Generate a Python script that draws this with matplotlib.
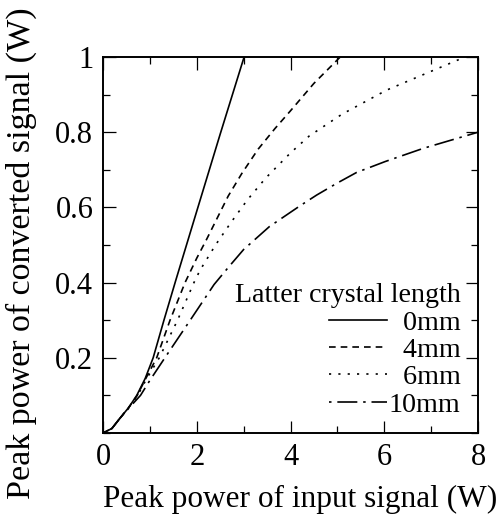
import matplotlib
matplotlib.use("Agg")
import matplotlib.pyplot as plt
from matplotlib.ticker import MultipleLocator, FixedLocator, FixedFormatter

plt.rcParams['font.family'] = ['Liberation Serif', 'DejaVu Serif']

# Data
x_0mm = [0, 0.19, 0.36, 0.55, 0.72, 0.9, 1.07, 1.30, 1.55, 2.0, 2.5, 3.01]
y_0mm = [0, 0.012, 0.039, 0.068, 0.1, 0.145, 0.2, 0.3, 0.405, 0.59, 0.795, 1.0]

x_4mm = [0, 0.19, 0.36, 0.55, 0.73, 0.9, 1.145, 1.43, 1.75, 2.0, 2.21, 2.43, 2.67, 2.96, 3.31, 3.67, 4.0, 4.5, 5.06]
y_4mm = [0, 0.012, 0.039, 0.068, 0.1, 0.142, 0.2, 0.3, 0.4, 0.465, 0.515, 0.57, 0.63, 0.69, 0.755, 0.81, 0.857, 0.93, 1.0]

x_6mm = [0, 0.19, 0.36, 0.55, 0.74, 0.92, 1.20, 1.59, 1.94, 2.07, 2.4, 2.73, 3.08, 3.47, 4.0, 4.4, 5.1, 6.05, 6.98, 7.72]
y_6mm = [0, 0.012, 0.039, 0.068, 0.1, 0.142, 0.2, 0.3, 0.4, 0.433, 0.5, 0.56, 0.62, 0.678, 0.745, 0.79, 0.848, 0.912, 0.961, 1.0]

x_10mm = [0, 0.19, 0.36, 0.55, 0.8, 1.0, 1.32, 1.86, 2.37, 2.67, 3.0, 3.55, 4.2, 4.56, 5.0, 5.41, 6.02, 6.83, 8.0]
y_10mm = [0, 0.012, 0.039, 0.066, 0.1, 0.14, 0.2, 0.3, 0.395, 0.44, 0.488, 0.549, 0.604, 0.633, 0.665, 0.693, 0.722, 0.757, 0.8]

labels = ['\u20070mm', '\u20074mm', '\u20076mm', '10mm']
legend_title = 'Latter crystal length'
x_ticks = [0, 2, 4, 6, 8]
y_ticks = [0.2, 0.4, 0.6, 0.8, 1.0]
y_ticklabels = ['0.2', '0.4', '0.6', '0.8', '1']

FS_TICK = 22
FS_XLABEL = 22.5
FS_YLABEL = 24.5
FS_LEG = 20.2

fig = plt.figure(figsize=(5.01, 5.17), dpi=100)
ax = fig.add_axes([0.2056, 0.1625, 0.7485, 0.7272])

lw = 1.2
ax.plot(x_0mm, y_0mm, color='black', lw=lw, linestyle='-', label=labels[0])
ax.plot(x_4mm, y_4mm, color='black', lw=lw, linestyle=(0, (4, 3)), label=labels[1])
ax.plot(x_6mm, y_6mm, color='black', lw=lw, linestyle=(0, (1.3, 4.3)), label=labels[2])
ax.plot(x_10mm, y_10mm, color='black', lw=lw, linestyle=(0, (1.5, 3.5, 12, 3.5)), label=labels[3])

ax.set_xlim(0, 8)
ax.set_ylim(0, 1)
ax.xaxis.set_major_locator(FixedLocator(x_ticks))
ax.xaxis.set_minor_locator(MultipleLocator(1))
ax.yaxis.set_major_locator(FixedLocator(y_ticks))
ax.yaxis.set_major_formatter(FixedFormatter(y_ticklabels))
ax.yaxis.set_minor_locator(MultipleLocator(0.1))

ax.tick_params(which='both', direction='in', top=True, right=True, width=0.9, labelsize=FS_TICK)
ax.tick_params(axis='x', pad=7)
ax.tick_params(axis='y', pad=7)
ax.tick_params(which='major', length=9)
ax.tick_params(which='minor', length=5)
for s in ax.spines.values():
    s.set_linewidth(1.4)

ax.set_xlabel('Peak power of input signal (W)', fontsize=FS_XLABEL, va='top')
ax.xaxis.set_label_coords(0.525, -0.138)
ax.set_ylabel('Peak power of converted signal (W)', fontsize=FS_YLABEL)
ax.yaxis.set_label_coords(-0.175, 0.477)

leg = ax.legend(title=legend_title, loc='lower right', bbox_to_anchor=(0.995, 0.0),
                frameon=False, fontsize=FS_LEG, title_fontsize=FS_LEG, alignment='right',
                handlelength=2.1, handletextpad=0.05, labelspacing=0.06, borderpad=0.25,
                borderaxespad=0.3)

fig.savefig('out.png', dpi=100)
